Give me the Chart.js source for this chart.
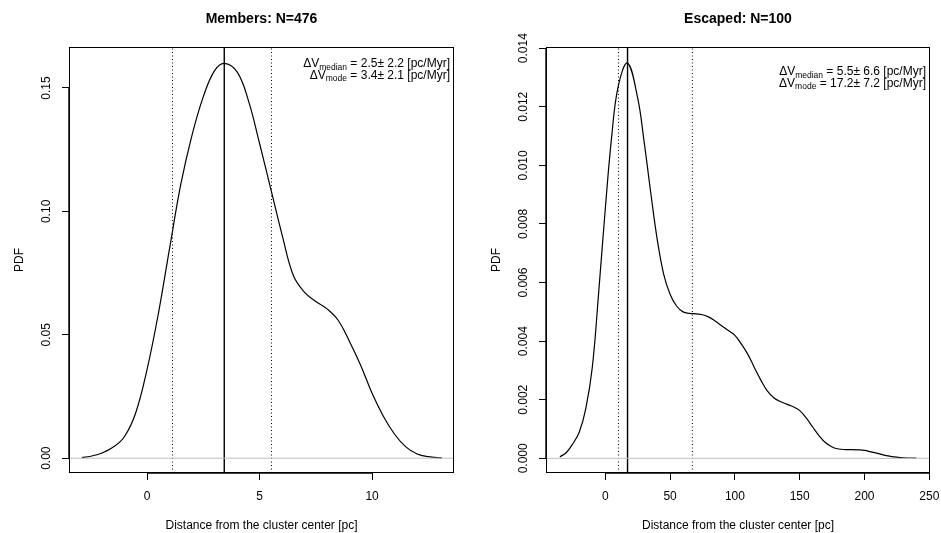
<!DOCTYPE html>
<html lang="en">
<head>
<meta charset="UTF-8">
<title>PDF of distance from the cluster center</title>
<script src="https://cdn.jsdelivr.net/npm/chart.js"></script>
<style>
  body { margin: 0; background: #fff; }
  .wrap { position: relative; width: 941px; height: 533px; background: #fff; }
  .panel { position: absolute; top: 0; }
</style>
</head>
<body>
<div class="wrap">
  <canvas id="membersChart" class="panel" width="470" height="533" style="left:0"></canvas>
  <canvas id="escapedChart" class="panel" width="471" height="533" style="left:470px"></canvas>
</div>
<script>
// --- Members panel ---
const membersX   = [-2.9, -2.5, -2.0, -1.5, -1.0, -0.5, 0.0, 0.5, 1.0, 1.5, 2.0, 2.5, 3.0, 3.43, 4.0, 4.5, 5.0,
                    5.5, 6.0, 6.5, 7.0, 7.5, 8.0, 8.5, 9.0, 9.5, 10.0, 10.5, 11.0, 11.5, 12.0, 12.5, 13.1];
const membersPdf = [0.0002, 0.0008, 0.0021, 0.0045, 0.0088, 0.0185, 0.0360, 0.0585, 0.0850, 0.1110, 0.1310, 0.1465, 0.1570, 0.1600, 0.1565, 0.1450, 0.1275,
                    0.1090, 0.0905, 0.0740, 0.0672, 0.0635, 0.0605, 0.0558, 0.0472, 0.0375, 0.0263, 0.0170, 0.0097, 0.0046, 0.0017, 0.0006, 0.0001];
const membersXTicks = [0, 5, 10];
const membersYTicks = [0, 0.05, 0.10, 0.15];
const membersYLabels = ['0.00', '0.05', '0.10', '0.15'];
const membersMode = 3.43;
const membersDotted = [1.13, 5.53];
const membersNotes = [['median', '= 2.5\u00b1 2.2 [pc/Myr]'], ['mode', '= 3.4\u00b1 2.1 [pc/Myr]']];

// --- Escaped panel ---
const escapedX   = [-35, -30, -25, -20, -15, -10, -5, 0, 5, 10, 17.2, 25, 30, 35, 40, 45,
                    50, 55, 60, 65, 70, 75, 80, 85, 90, 95, 100, 105, 110, 115, 120, 125, 130, 135, 140, 145, 150,
                    155, 160, 165, 170, 175, 180, 185, 190, 195, 200, 205, 210, 215, 220, 225, 230, 240];
const escapedPdf = [0.00005, 0.0002, 0.0005, 0.0009, 0.0017, 0.0031, 0.0057, 0.0085, 0.0110, 0.0127, 0.01349, 0.0123, 0.0108, 0.0091, 0.0075, 0.0063,
                    0.0056, 0.0052, 0.0050, 0.00495, 0.00493, 0.0049, 0.00482, 0.00468, 0.00452, 0.00436, 0.00420, 0.0039, 0.00355, 0.0031, 0.00267, 0.0023, 0.00207, 0.00194, 0.00185, 0.00176, 0.00163,
                    0.00138, 0.00107, 0.00077, 0.00053, 0.00039, 0.00032, 0.0003, 0.0003, 0.00029, 0.00027, 0.00022, 0.00017, 0.00011, 0.00007, 0.00004, 0.00002, 0.00001];
const escapedXTicks = [0, 50, 100, 150, 200, 250];
const escapedYTicks = [0, 0.002, 0.004, 0.006, 0.008, 0.010, 0.012, 0.014];
const escapedYLabels = ['0.000', '0.002', '0.004', '0.006', '0.008', '0.010', '0.012', '0.014'];
const escapedMode = 17.2;
const escapedDotted = [10.2, 67.2];
const escapedNotes = [['median', '= 5.5\u00b1 6.6 [pc/Myr]'], ['mode', '= 17.2\u00b1 7.2 [pc/Myr]']];

const FONT = '"Liberation Sans", Arial, Helvetica, sans-serif';

// draws the R-style frame, labels and annotation on top of the chart
const rStyle = {
  id: 'rStyle',
  afterDraw(chart, args, o) {
    const ctx = chart.ctx, a = chart.chartArea;
    const xs = chart.scales.x, ys = chart.scales.y;
    ctx.save();
    ctx.strokeStyle = '#000';
    ctx.fillStyle = '#000';

    // box
    ctx.lineWidth = 1;
    ctx.strokeRect(Math.round(a.left) + 0.5, Math.round(a.top) + 0.5, Math.round(a.right - a.left) - 1, Math.round(a.bottom - a.top) - 1);

    // axis lines between first and last ticks
    ctx.lineWidth = 1.4;
    ctx.beginPath();
    ctx.moveTo(xs.getPixelForValue(o.xTicks[0]), a.bottom);
    ctx.lineTo(xs.getPixelForValue(o.xTicks[o.xTicks.length - 1]), a.bottom);
    ctx.moveTo(a.left, ys.getPixelForValue(o.yTicks[0]));
    ctx.lineTo(a.left, ys.getPixelForValue(o.yTicks[o.yTicks.length - 1]));
    ctx.stroke();

    // x tick labels
    ctx.font = '12px ' + FONT;
    ctx.textAlign = 'center';
    ctx.textBaseline = 'middle';
    o.xTicks.forEach(v => ctx.fillText(String(v), xs.getPixelForValue(v), 497));

    // y tick labels, rotated like R
    o.yTicks.forEach((v, i) => {
      ctx.save();
      ctx.translate(a.left - 22, ys.getPixelForValue(v));
      ctx.rotate(-Math.PI / 2);
      ctx.fillText(o.yLabels[i], 0, 0);
      ctx.restore();
    });

    // axis titles
    const cx = (a.left + a.right) / 2;
    ctx.fillText('Distance from the cluster center [pc]', cx, 526);
    ctx.save();
    ctx.translate(a.left - 49, (a.top + a.bottom) / 2);
    ctx.rotate(-Math.PI / 2);
    ctx.fillText('PDF', 0, 0);
    ctx.restore();

    // main title
    ctx.font = 'bold 14px ' + FONT;
    ctx.fillText(o.title, cx, 19);

    // annotation with subscripts, right aligned
    ctx.textBaseline = 'alphabetic';
    ctx.textAlign = 'left';
    o.notes.forEach((n, i) => {
      const base = o.noteY + i * 11.5;
      ctx.font = '12px ' + FONT;
      const w1 = ctx.measureText('\u0394V').width;
      const w3 = ctx.measureText(' ' + n[1]).width;
      ctx.font = '8.5px ' + FONT;
      const w2 = ctx.measureText(n[0]).width;
      let x = a.right - 4 - (w1 + w2 + w3);
      ctx.font = '12px ' + FONT;
      ctx.fillText('\u0394V', x, base);
      x += w1;
      ctx.font = '8.5px ' + FONT;
      ctx.fillText(n[0], x, base + 2.5);
      x += w2;
      ctx.font = '12px ' + FONT;
      ctx.fillText(' ' + n[1], x, base);
    });
    ctx.restore();
  }
};

function makePanel(id, p) {
  const curve = p.xs.map((x, i) => ({ x: x, y: p.ys[i] }));
  const datasets = [
    { data: [{ x: p.xMin, y: 0 }, { x: p.xMax, y: 0 }], borderColor: '#bebebe', borderWidth: 1 },
    { data: curve, borderColor: '#000', borderWidth: 1.2, tension: 0.4 },
    { data: [{ x: p.mode, y: p.yMin }, { x: p.mode, y: p.yMax }], borderColor: '#000', borderWidth: 1.4 }
  ];
  p.dotted.forEach(v => datasets.push({
    data: [{ x: v, y: p.yMin }, { x: v, y: p.yMax }], borderColor: '#000', borderWidth: 1, borderDash: [1, 2.5]
  }));
  datasets.forEach(d => { d.showLine = true; d.pointRadius = 0; d.fill = false; });

  return new Chart(document.getElementById(id), {
    type: 'scatter',
    data: { datasets: datasets },
    plugins: [rStyle],
    options: {
      responsive: false,
      animation: false,
      devicePixelRatio: 1,
      layout: { padding: { left: 0, top: 47, right: p.padRight, bottom: 0 } },
      plugins: {
        legend: { display: false },
        tooltip: { enabled: false },
        rStyle: { title: p.title, xTicks: p.xTicks, yTicks: p.yTicks, yLabels: p.yLabels, notes: p.notes, noteY: p.noteY }
      },
      scales: {
        x: {
          type: 'linear', min: p.xMin, max: p.xMax,
          afterBuildTicks: s => { s.ticks = p.xTicks.map(v => ({ value: v })); },
          afterFit: s => { s.height = 60; },
          ticks: { display: false },
          border: { display: false },
          grid: { drawOnChartArea: false, drawTicks: true, tickLength: 7, color: '#000', lineWidth: 1 }
        },
        y: {
          type: 'linear', min: p.yMin, max: p.yMax,
          afterBuildTicks: s => { s.ticks = p.yTicks.map(v => ({ value: v })); },
          afterFit: s => { s.width = p.yWidth; },
          ticks: { display: false },
          border: { display: false },
          grid: { drawOnChartArea: false, drawTicks: true, tickLength: 7, color: '#000', lineWidth: 1 }
        }
      }
    }
  });
}

makePanel('membersChart', {
  title: 'Members: N=476', xs: membersX, ys: membersPdf,
  xMin: -3.47, xMax: 13.64, yMin: -0.006, yMax: 0.1666,
  xTicks: membersXTicks, yTicks: membersYTicks, yLabels: membersYLabels,
  mode: membersMode, dotted: membersDotted, notes: membersNotes, noteY: 67,
  yWidth: 69, padRight: 16
});

makePanel('escapedChart', {
  title: 'Escaped: N=100', xs: escapedX, ys: escapedPdf,
  xMin: -45.7, xMax: 250.5, yMin: -0.0005, yMax: 0.01404,
  xTicks: escapedXTicks, yTicks: escapedYTicks, yLabels: escapedYLabels,
  mode: escapedMode, dotted: escapedDotted, notes: escapedNotes, noteY: 75,
  yWidth: 76, padRight: 11
});
</script>
</body>
</html>
